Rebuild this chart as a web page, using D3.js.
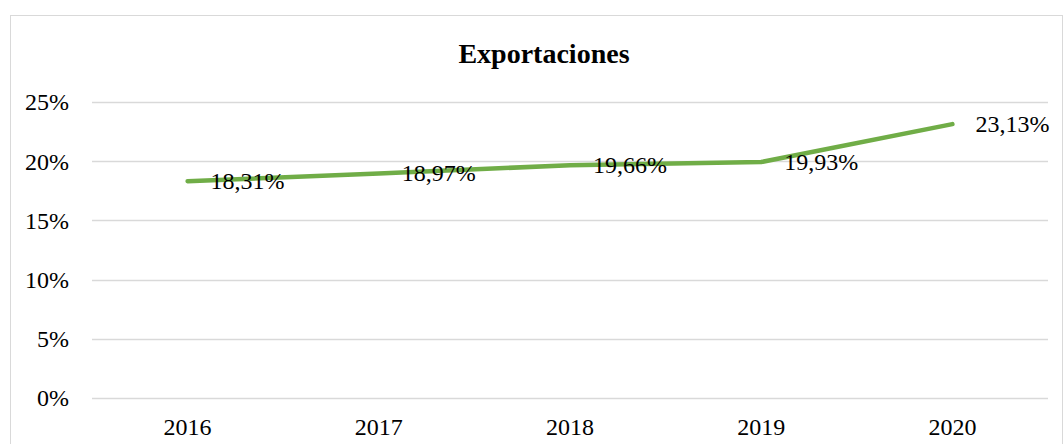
<!DOCTYPE html>
<html><head><meta charset="utf-8">
<script src="https://cdn.jsdelivr.net/npm/d3@7"></script>
<style>body{margin:0;background:#fff}svg{display:block}</style>
</head><body><svg id="c" width="1063" height="444"></svg>
<script>
const title = "Exportaciones";
const categories = ["2016","2017","2018","2019","2020"];
const values = [18.31, 18.97, 19.66, 19.93, 23.13];
const yTicks = [0,5,10,15,20,25];

const svg = d3.select("#c");
const W = 1063, H = 444;
const m = {left:92, right:15, top:102, bottom:46};
const font = "'Liberation Serif','Times New Roman',serif";

svg.append("rect").attr("x",10.5).attr("y",15.5).attr("width",1052).attr("height",440)
  .attr("fill","#fff").attr("stroke","#d9d9d9").attr("stroke-width",1);

const x = d3.scaleBand().domain(categories).range([m.left, W - m.right]);
const y = d3.scaleLinear().domain([0,25]).range([H - m.bottom, m.top]);

const grid = svg.append("g");
grid.selectAll("line").data(yTicks).join("line")
  .attr("x1", m.left).attr("x2", W - m.right)
  .attr("y1", d => Math.round(y(d)) + 0.5).attr("y2", d => Math.round(y(d)) + 0.5)
  .attr("stroke","#d9d9d9").attr("stroke-width",1.3);

const yAxis = d3.axisLeft(y).tickValues(yTicks).tickFormat(d => d + "%").tickSize(0).tickPadding(0);
const ya = svg.append("g").attr("transform","translate(69,0)").call(yAxis);
ya.select(".domain").remove();
ya.selectAll("text").attr("font-family",font).attr("font-size",24).attr("fill","#000").attr("dy","0.33em");

const xAxis = d3.axisBottom(x).tickSize(0).tickPadding(0);
const xa = svg.append("g").attr("transform",`translate(0,${H - m.bottom})`).call(xAxis);
xa.select(".domain").remove();
xa.selectAll("text").attr("font-family",font).attr("font-size",24).attr("fill","#000").attr("dy",null).attr("y",37);

const line = d3.line().x((d,i) => x(categories[i]) + x.bandwidth()/2).y(d => y(d));
svg.append("path").datum(values).attr("d",line).attr("fill","none")
  .attr("stroke","#70AD47").attr("stroke-width",4.5).attr("stroke-linecap","round").attr("stroke-linejoin","round");

svg.append("g").selectAll("text").data(values).join("text")
  .attr("x",(d,i) => x(categories[i]) + x.bandwidth()/2 + 23)
  .attr("y", d => y(d)).attr("dy","0.33em")
  .attr("font-family",font).attr("font-size",24).attr("fill","#000")
  .text(d => d.toFixed(2).replace(".", ",") + "%");

svg.append("text").attr("x", 544).attr("y", 63).attr("text-anchor","middle")
  .attr("font-family",font).attr("font-size",28).attr("font-weight","bold").text(title);
</script></body></html>
